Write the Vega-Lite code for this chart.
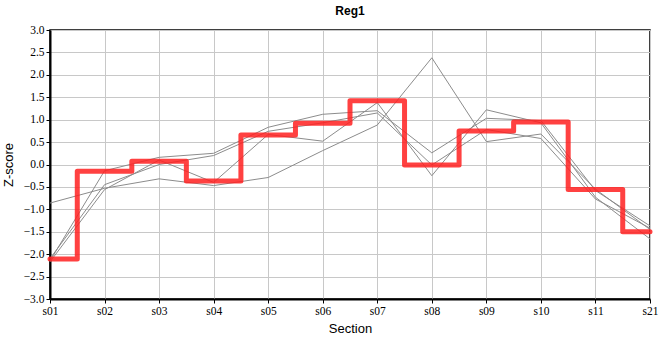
{
  "$schema": "https://vega.github.io/schema/vega-lite/v6.json",
  "autosize": {"type": "none"},
  "padding": {"left": 50, "top": 30, "right": 10, "bottom": 61},
  "width": 600,
  "height": 269,
  "title": {"text": "Reg1", "fontSize": 12, "fontWeight": "bold", "font": "Liberation Sans", "color": "#000", "offset": 6},
  "config": {
    "view": {"stroke": "#000", "strokeWidth": 1.5},
    "axis": {"labelFont": "Liberation Sans Narrow", "titleFont": "Liberation Sans", "labelFontSize": 11.5, "titleFontSize": 13, "titleFontWeight": "normal", "labelColor": "#000", "titleColor": "#000", "domainColor": "#000", "domainWidth": 2, "tickColor": "#000", "tickSize": 4, "gridColor": "#c8c8c8", "gridWidth": 1}
  },
  "data": {"values": [
    {"section": "s01", "series": "A", "value": -0.86},
    {"section": "s02", "series": "A", "value": -0.53},
    {"section": "s03", "series": "A", "value": -0.32},
    {"section": "s04", "series": "A", "value": -0.47},
    {"section": "s05", "series": "A", "value": -0.29},
    {"section": "s06", "series": "A", "value": 0.31},
    {"section": "s07", "series": "A", "value": 0.88},
    {"section": "s08", "series": "A", "value": 2.38},
    {"section": "s09", "series": "A", "value": 0.51},
    {"section": "s10", "series": "A", "value": 0.68},
    {"section": "s11", "series": "A", "value": -0.55},
    {"section": "s21", "series": "A", "value": -1.45},
    {"section": "s01", "series": "B", "value": -2.15},
    {"section": "s02", "series": "B", "value": -0.14},
    {"section": "s03", "series": "B", "value": 0.16},
    {"section": "s04", "series": "B", "value": 0.25},
    {"section": "s05", "series": "B", "value": 0.83},
    {"section": "s06", "series": "B", "value": 1.12},
    {"section": "s07", "series": "B", "value": 1.2},
    {"section": "s08", "series": "B", "value": 0.26},
    {"section": "s09", "series": "B", "value": 1.03},
    {"section": "s10", "series": "B", "value": 0.98},
    {"section": "s11", "series": "B", "value": -0.58},
    {"section": "s21", "series": "B", "value": -1.37},
    {"section": "s01", "series": "C", "value": -2.1},
    {"section": "s02", "series": "C", "value": -0.45},
    {"section": "s03", "series": "C", "value": 0.0},
    {"section": "s04", "series": "C", "value": 0.2},
    {"section": "s05", "series": "C", "value": 0.74},
    {"section": "s06", "series": "C", "value": 0.93},
    {"section": "s07", "series": "C", "value": 1.15},
    {"section": "s08", "series": "C", "value": -0.01},
    {"section": "s09", "series": "C", "value": 0.78},
    {"section": "s10", "series": "C", "value": 0.58},
    {"section": "s11", "series": "C", "value": -0.77},
    {"section": "s21", "series": "C", "value": -1.42},
    {"section": "s01", "series": "D", "value": -2.17},
    {"section": "s02", "series": "D", "value": -0.56},
    {"section": "s03", "series": "D", "value": 0.1},
    {"section": "s04", "series": "D", "value": -0.4},
    {"section": "s05", "series": "D", "value": 0.67},
    {"section": "s06", "series": "D", "value": 0.52},
    {"section": "s07", "series": "D", "value": 1.38},
    {"section": "s08", "series": "D", "value": -0.25},
    {"section": "s09", "series": "D", "value": 1.22},
    {"section": "s10", "series": "D", "value": 0.93},
    {"section": "s11", "series": "D", "value": -0.73},
    {"section": "s21", "series": "D", "value": -1.66},
    {"section": "s01", "series": "Reg1", "value": -2.11},
    {"section": "s02", "series": "Reg1", "value": -0.15},
    {"section": "s03", "series": "Reg1", "value": 0.07},
    {"section": "s04", "series": "Reg1", "value": -0.37},
    {"section": "s05", "series": "Reg1", "value": 0.66},
    {"section": "s06", "series": "Reg1", "value": 0.92},
    {"section": "s07", "series": "Reg1", "value": 1.42},
    {"section": "s08", "series": "Reg1", "value": -0.01},
    {"section": "s09", "series": "Reg1", "value": 0.75},
    {"section": "s10", "series": "Reg1", "value": 0.95},
    {"section": "s11", "series": "Reg1", "value": -0.56},
    {"section": "s21", "series": "Reg1", "value": -1.5}
  ]},
  "encoding": {
    "x": {"field": "section", "type": "ordinal", "scale": {"type": "point", "padding": 0}, "axis": {"title": "Section", "labelAngle": 0, "grid": true, "titlePadding": 6}},
    "y": {"field": "value", "type": "quantitative", "scale": {"domain": [-3, 3], "nice": false}, "axis": {"title": "Z-score", "values": [-3, -2.5, -2, -1.5, -1, -0.5, 0, 0.5, 1, 1.5, 2, 2.5, 3], "format": ".1f", "grid": true, "titlePadding": 8}}
  },
  "layer": [
    {
      "transform": [{"filter": "datum.series !== 'Reg1'"}],
      "mark": {"type": "line", "color": "#8c8c8c", "strokeWidth": 1},
      "encoding": {"detail": {"field": "series"}}
    },
    {
      "transform": [{"filter": "datum.series === 'Reg1'"}],
      "mark": {"type": "line", "color": "#ff2020", "opacity": 0.85, "strokeWidth": 5, "interpolate": "step", "strokeJoin": "round", "strokeCap": "round"}
    }
  ]
}
